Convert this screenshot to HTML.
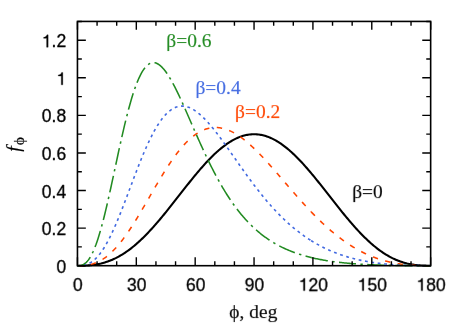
<!DOCTYPE html><html><head><meta charset="utf-8"><style>html,body{margin:0;padding:0;background:#fff;width:463px;height:324px;overflow:hidden}svg{display:block}text{font-family:"Liberation Sans",sans-serif;stroke-width:0.3px;stroke-linejoin:round}.s{font-family:"Liberation Serif",serif;stroke-width:0.14px}</style></head><body>
<svg width="463" height="324" viewBox="0 0 463 324">
<rect width="463" height="324" fill="#fff"/>
<g fill="none" stroke-linejoin="round">
<path d="M77.45 265.70 L78.43 265.70 L79.41 265.70 L80.39 265.69 L81.37 265.68 L82.36 265.66 L83.34 265.64 L84.32 265.61 L85.30 265.57 L86.28 265.52 L87.26 265.47 L88.24 265.40 L89.22 265.33 L90.20 265.24 L91.19 265.15 L92.17 265.04 L93.15 264.92 L94.13 264.79 L95.11 264.64 L96.09 264.48 L97.07 264.31 L98.05 264.13 L99.03 263.93 L100.02 263.71 L101.00 263.49 L101.98 263.24 L102.96 262.98 L103.94 262.71 L104.92 262.42 L105.90 262.11 L106.88 261.79 L107.86 261.45 L108.85 261.09 L109.83 260.72 L110.81 260.33 L111.79 259.92 L112.77 259.49 L113.75 259.05 L114.73 258.59 L115.71 258.12 L116.69 257.62 L117.68 257.11 L118.66 256.58 L119.64 256.03 L120.62 255.46 L121.60 254.88 L122.58 254.28 L123.56 253.66 L124.54 253.02 L125.52 252.37 L126.51 251.69 L127.49 251.00 L128.47 250.30 L129.45 249.57 L130.43 248.83 L131.41 248.07 L132.39 247.29 L133.37 246.50 L134.35 245.69 L135.34 244.86 L136.32 244.02 L137.30 243.16 L138.28 242.28 L139.26 241.39 L140.24 240.48 L141.22 239.56 L142.20 238.62 L143.18 237.66 L144.17 236.69 L145.15 235.71 L146.13 234.71 L147.11 233.70 L148.09 232.68 L149.07 231.64 L150.05 230.59 L151.03 229.53 L152.01 228.45 L153.00 227.36 L153.98 226.26 L154.96 225.15 L155.94 224.03 L156.92 222.90 L157.90 221.76 L158.88 220.61 L159.86 219.45 L160.84 218.28 L161.83 217.10 L162.81 215.91 L163.79 214.72 L164.77 213.52 L165.75 212.31 L166.73 211.09 L167.71 209.87 L168.69 208.65 L169.67 207.42 L170.66 206.18 L171.64 204.94 L172.62 203.70 L173.60 202.45 L174.58 201.20 L175.56 199.95 L176.54 198.70 L177.52 197.45 L178.50 196.19 L179.49 194.94 L180.47 193.68 L181.45 192.43 L182.43 191.18 L183.41 189.93 L184.39 188.68 L185.37 187.43 L186.35 186.19 L187.33 184.96 L188.32 183.72 L189.30 182.49 L190.28 181.27 L191.26 180.05 L192.24 178.84 L193.22 177.64 L194.20 176.44 L195.18 175.25 L196.16 174.07 L197.15 172.90 L198.13 171.74 L199.11 170.58 L200.09 169.44 L201.07 168.31 L202.05 167.19 L203.03 166.08 L204.01 164.99 L204.99 163.90 L205.98 162.83 L206.96 161.77 L207.94 160.73 L208.92 159.70 L209.90 158.69 L210.88 157.69 L211.86 156.71 L212.84 155.74 L213.82 154.80 L214.81 153.86 L215.79 152.95 L216.77 152.05 L217.75 151.17 L218.73 150.31 L219.71 149.47 L220.69 148.65 L221.67 147.85 L222.65 147.07 L223.64 146.30 L224.62 145.56 L225.60 144.84 L226.58 144.15 L227.56 143.47 L228.54 142.81 L229.52 142.18 L230.50 141.57 L231.48 140.98 L232.47 140.42 L233.45 139.88 L234.43 139.36 L235.41 138.87 L236.39 138.40 L237.37 137.95 L238.35 137.53 L239.33 137.14 L240.31 136.76 L241.30 136.42 L242.28 136.10 L243.26 135.80 L244.24 135.53 L245.22 135.28 L246.20 135.06 L247.18 134.87 L248.16 134.70 L249.14 134.56 L250.13 134.44 L251.11 134.35 L252.09 134.28 L253.07 134.24 L254.05 134.23 L255.03 134.24 L256.01 134.28 L256.99 134.35 L257.97 134.44 L258.96 134.56 L259.94 134.70 L260.92 134.87 L261.90 135.06 L262.88 135.28 L263.86 135.53 L264.84 135.80 L265.82 136.10 L266.80 136.42 L267.79 136.76 L268.77 137.14 L269.75 137.53 L270.73 137.95 L271.71 138.40 L272.69 138.87 L273.67 139.36 L274.65 139.88 L275.63 140.42 L276.62 140.98 L277.60 141.57 L278.58 142.18 L279.56 142.81 L280.54 143.47 L281.52 144.15 L282.50 144.84 L283.48 145.56 L284.46 146.30 L285.45 147.07 L286.43 147.85 L287.41 148.65 L288.39 149.47 L289.37 150.31 L290.35 151.17 L291.33 152.05 L292.31 152.95 L293.29 153.86 L294.28 154.80 L295.26 155.74 L296.24 156.71 L297.22 157.69 L298.20 158.69 L299.18 159.70 L300.16 160.73 L301.14 161.77 L302.12 162.83 L303.11 163.90 L304.09 164.99 L305.07 166.08 L306.05 167.19 L307.03 168.31 L308.01 169.44 L308.99 170.58 L309.97 171.74 L310.95 172.90 L311.94 174.07 L312.92 175.25 L313.90 176.44 L314.88 177.64 L315.86 178.84 L316.84 180.05 L317.82 181.27 L318.80 182.49 L319.78 183.72 L320.77 184.96 L321.75 186.19 L322.73 187.43 L323.71 188.68 L324.69 189.93 L325.67 191.18 L326.65 192.43 L327.63 193.68 L328.61 194.94 L329.60 196.19 L330.58 197.45 L331.56 198.70 L332.54 199.95 L333.52 201.20 L334.50 202.45 L335.48 203.70 L336.46 204.94 L337.44 206.18 L338.43 207.42 L339.41 208.65 L340.39 209.87 L341.37 211.09 L342.35 212.31 L343.33 213.52 L344.31 214.72 L345.29 215.91 L346.27 217.10 L347.26 218.28 L348.24 219.45 L349.22 220.61 L350.20 221.76 L351.18 222.90 L352.16 224.03 L353.14 225.15 L354.12 226.26 L355.10 227.36 L356.09 228.45 L357.07 229.53 L358.05 230.59 L359.03 231.64 L360.01 232.68 L360.99 233.70 L361.97 234.71 L362.95 235.71 L363.93 236.69 L364.92 237.66 L365.90 238.62 L366.88 239.56 L367.86 240.48 L368.84 241.39 L369.82 242.28 L370.80 243.16 L371.78 244.02 L372.76 244.86 L373.75 245.69 L374.73 246.50 L375.71 247.29 L376.69 248.07 L377.67 248.83 L378.65 249.57 L379.63 250.30 L380.61 251.00 L381.59 251.69 L382.58 252.37 L383.56 253.02 L384.54 253.66 L385.52 254.28 L386.50 254.88 L387.48 255.46 L388.46 256.03 L389.44 256.58 L390.42 257.11 L391.41 257.62 L392.39 258.12 L393.37 258.59 L394.35 259.05 L395.33 259.49 L396.31 259.92 L397.29 260.33 L398.27 260.72 L399.25 261.09 L400.24 261.45 L401.22 261.79 L402.20 262.11 L403.18 262.42 L404.16 262.71 L405.14 262.98 L406.12 263.24 L407.10 263.49 L408.08 263.71 L409.07 263.93 L410.05 264.13 L411.03 264.31 L412.01 264.48 L412.99 264.64 L413.97 264.79 L414.95 264.92 L415.93 265.04 L416.91 265.15 L417.90 265.24 L418.88 265.33 L419.86 265.40 L420.84 265.47 L421.82 265.52 L422.80 265.57 L423.78 265.61 L424.76 265.64 L425.74 265.66 L426.73 265.68 L427.71 265.69 L428.69 265.70 L429.67 265.70 L430.65 265.70" stroke="#000" stroke-width="2.1"/>
<path d="M77.45 265.70 L78.43 265.70 L79.41 265.69 L80.40 265.67 L81.38 265.65 L82.36 265.60 L83.34 265.55 L84.32 265.47 L85.31 265.38 L86.29 265.26 L87.27 265.13 L88.25 264.97 L89.23 264.78 L90.22 264.57 L91.20 264.33 L92.18 264.07 L93.16 263.78 L94.14 263.45 L95.12 263.10 L96.11 262.72 L97.09 262.30 L98.07 261.85 L99.05 261.37 L100.03 260.86 L101.02 260.31 L102.00 259.73 L102.98 259.12 L103.96 258.47 L104.94 257.78 L105.93 257.06 L106.91 256.31 L107.89 255.52 L108.87 254.70 L109.85 253.84 L110.84 252.95 L111.82 252.02 L112.80 251.06 L113.78 250.07 L114.76 249.04 L115.75 247.98 L116.73 246.89 L117.71 245.76 L118.69 244.61 L119.67 243.42 L120.66 242.20 L121.64 240.95 L122.62 239.68 L123.60 238.37 L124.58 237.04 L125.56 235.68 L126.55 234.30 L127.53 232.89 L128.51 231.45 L129.49 229.99 L130.47 228.51 L131.46 227.01 L132.44 225.49 L133.42 223.95 L134.40 222.39 L135.38 220.82 L136.37 219.22 L137.35 217.62 L138.33 216.00 L139.31 214.36 L140.29 212.71 L141.28 211.06 L142.26 209.39 L143.24 207.72 L144.22 206.04 L145.20 204.35 L146.19 202.65 L147.17 200.96 L148.15 199.26 L149.13 197.56 L150.11 195.86 L151.10 194.16 L152.08 192.46 L153.06 190.77 L154.04 189.08 L155.02 187.39 L156.00 185.72 L156.99 184.05 L157.97 182.39 L158.95 180.74 L159.93 179.10 L160.91 177.47 L161.90 175.85 L162.88 174.25 L163.86 172.67 L164.84 171.10 L165.82 169.54 L166.81 168.01 L167.79 166.49 L168.77 165.00 L169.75 163.52 L170.73 162.07 L171.72 160.63 L172.70 159.22 L173.68 157.84 L174.66 156.48 L175.64 155.14 L176.63 153.84 L177.61 152.55 L178.59 151.30 L179.57 150.07 L180.55 148.87 L181.54 147.70 L182.52 146.56 L183.50 145.45 L184.48 144.37 L185.46 143.33 L186.44 142.31 L187.43 141.33 L188.41 140.37 L189.39 139.45 L190.37 138.57 L191.35 137.71 L192.34 136.89 L193.32 136.11 L194.30 135.36 L195.28 134.64 L196.26 133.95 L197.25 133.30 L198.23 132.69 L199.21 132.11 L200.19 131.56 L201.17 131.05 L202.16 130.57 L203.14 130.13 L204.12 129.73 L205.10 129.35 L206.08 129.01 L207.07 128.71 L208.05 128.44 L209.03 128.21 L210.01 128.01 L210.99 127.84 L211.98 127.70 L212.96 127.60 L213.94 127.54 L214.92 127.50 L215.90 127.50 L216.88 127.53 L217.87 127.59 L218.85 127.69 L219.83 127.81 L220.81 127.97 L221.79 128.15 L222.78 128.37 L223.76 128.62 L224.74 128.89 L225.72 129.20 L226.70 129.53 L227.69 129.90 L228.67 130.29 L229.65 130.70 L230.63 131.15 L231.61 131.62 L232.60 132.12 L233.58 132.64 L234.56 133.19 L235.54 133.76 L236.52 134.35 L237.51 134.97 L238.49 135.61 L239.47 136.28 L240.45 136.96 L241.43 137.67 L242.42 138.40 L243.40 139.15 L244.38 139.92 L245.36 140.70 L246.34 141.51 L247.32 142.34 L248.31 143.18 L249.29 144.04 L250.27 144.91 L251.25 145.81 L252.23 146.71 L253.22 147.64 L254.20 148.57 L255.18 149.53 L256.16 150.49 L257.14 151.47 L258.13 152.46 L259.11 153.46 L260.09 154.47 L261.07 155.50 L262.05 156.53 L263.04 157.58 L264.02 158.63 L265.00 159.69 L265.98 160.76 L266.96 161.84 L267.95 162.93 L268.93 164.02 L269.91 165.12 L270.89 166.23 L271.87 167.34 L272.86 168.45 L273.84 169.57 L274.82 170.70 L275.80 171.83 L276.78 172.96 L277.76 174.09 L278.75 175.23 L279.73 176.37 L280.71 177.51 L281.69 178.66 L282.67 179.80 L283.66 180.94 L284.64 182.09 L285.62 183.23 L286.60 184.37 L287.58 185.52 L288.57 186.66 L289.55 187.79 L290.53 188.93 L291.51 190.07 L292.49 191.20 L293.48 192.33 L294.46 193.45 L295.44 194.58 L296.42 195.69 L297.40 196.81 L298.39 197.92 L299.37 199.02 L300.35 200.12 L301.33 201.22 L302.31 202.31 L303.30 203.39 L304.28 204.47 L305.26 205.54 L306.24 206.61 L307.22 207.66 L308.20 208.72 L309.19 209.76 L310.17 210.80 L311.15 211.83" stroke="#ff4500" stroke-width="1.55" stroke-dasharray="5.4 7.44" stroke-dashoffset="12.29"/>
<path d="M311.15 211.83 L312.13 212.85 L313.11 213.86 L314.09 214.86 L315.07 215.86 L316.05 216.84 L317.03 217.82 L318.01 218.79 L318.99 219.75 L319.97 220.70 L320.95 221.65 L321.93 222.58 L322.90 223.50 L323.88 224.42 L324.86 225.32 L325.84 226.22 L326.82 227.11 L327.80 227.98 L328.78 228.85 L329.76 229.70 L330.74 230.55 L331.72 231.39 L332.70 232.21 L333.68 233.03 L334.66 233.83 L335.64 234.63 L336.62 235.41 L337.60 236.18 L338.58 236.95 L339.56 237.70 L340.54 238.44 L341.52 239.17 L342.49 239.89 L343.47 240.60 L344.45 241.30 L345.43 241.98 L346.41 242.66 L347.39 243.32 L348.37 243.98 L349.35 244.62 L350.33 245.25 L351.31 245.88 L352.29 246.49 L353.27 247.09 L354.25 247.68 L355.23 248.26 L356.21 248.82 L357.19 249.38 L358.17 249.93 L359.15 250.46 L360.13 250.99 L361.11 251.50 L362.08 252.00 L363.06 252.50 L364.04 252.98 L365.02 253.45 L366.00 253.91 L366.98 254.36 L367.96 254.80 L368.94 255.23 L369.92 255.65 L370.90 256.06 L371.88 256.46 L372.86 256.85 L373.84 257.23 L374.82 257.60 L375.80 257.96 L376.78 258.31 L377.76 258.65 L378.74 258.98 L379.72 259.30 L380.70 259.62 L381.67 259.92 L382.65 260.21 L383.63 260.50 L384.61 260.77 L385.59 261.04 L386.57 261.29 L387.55 261.54 L388.53 261.78 L389.51 262.01 L390.49 262.24 L391.47 262.45 L392.45 262.66 L393.43 262.85 L394.41 263.04 L395.39 263.23 L396.37 263.40 L397.35 263.57 L398.33 263.73 L399.31 263.88 L400.29 264.02 L401.26 264.16 L402.24 264.29 L403.22 264.41 L404.20 264.53 L405.18 264.64 L406.16 264.74 L407.14 264.84 L408.12 264.93 L409.10 265.01 L410.08 265.09 L411.06 265.16 L412.04 265.23 L413.02 265.29 L414.00 265.35 L414.98 265.40 L415.96 265.44 L416.94 265.49 L417.92 265.52 L418.90 265.56 L419.88 265.59 L420.85 265.61 L421.83 265.63 L422.81 265.65 L423.79 265.66 L424.77 265.68 L425.75 265.69 L426.73 265.69 L427.71 265.70 L428.69 265.70 L429.67 265.70 L430.65 265.70" stroke="#ff4500" stroke-width="1.55" stroke-dasharray="5.4 7.44"/>
<path d="M77.45 265.70 L78.43 265.70 L79.41 265.68 L80.40 265.63 L81.38 265.56 L82.36 265.45 L83.34 265.31 L84.32 265.11 L85.31 264.87 L86.29 264.58 L87.27 264.23 L88.25 263.82 L89.23 263.35 L90.22 262.82 L91.20 262.22 L92.18 261.55 L93.16 260.82 L94.14 260.01 L95.12 259.14 L96.11 258.19 L97.09 257.16 L98.07 256.07 L99.05 254.90 L100.03 253.66 L101.02 252.34 L102.00 250.95 L102.98 249.49 L103.96 247.96 L104.94 246.36 L105.93 244.68 L106.91 242.94 L107.89 241.14 L108.87 239.27 L109.85 237.34 L110.84 235.35 L111.82 233.30 L112.80 231.19 L113.78 229.03 L114.76 226.82 L115.75 224.56 L116.73 222.26 L117.71 219.92 L118.69 217.53 L119.67 215.11 L120.66 212.65 L121.64 210.17 L122.62 207.66 L123.60 205.12 L124.58 202.56 L125.56 199.99 L126.55 197.40 L127.53 194.80 L128.51 192.19 L129.49 189.58 L130.47 186.97 L131.46 184.36 L132.44 181.75 L133.42 179.15 L134.40 176.57 L135.38 174.00 L136.37 171.44 L137.35 168.91 L138.33 166.40 L139.31 163.92 L140.29 161.46 L141.28 159.04 L142.26 156.65 L143.24 154.29 L144.22 151.98 L145.20 149.70 L146.19 147.47 L147.17 145.29 L148.15 143.15 L149.13 141.06 L150.11 139.02 L151.10 137.04 L152.08 135.11 L153.06 133.23 L154.04 131.41 L155.02 129.65 L156.00 127.95 L156.99 126.31 L157.97 124.73 L158.95 123.22 L159.93 121.76 L160.91 120.37 L161.90 119.05 L162.88 117.78 L163.86 116.59 L164.84 115.46 L165.82 114.39 L166.81 113.39 L167.79 112.46 L168.77 111.59 L169.75 110.78 L170.73 110.04 L171.72 109.37 L172.70 108.76 L173.68 108.22 L174.66 107.73 L175.64 107.31 L176.63 106.96 L177.61 106.66 L178.59 106.43 L179.57 106.25 L180.55 106.14 L181.54 106.08 L182.52 106.08 L183.50 106.14 L184.48 106.25 L185.46 106.42 L186.44 106.64 L187.43 106.91 L188.41 107.23 L189.39 107.61 L190.37 108.03 L191.35 108.50 L192.34 109.01 L193.32 109.57 L194.30 110.18 L195.28 110.82 L196.26 111.51 L197.25 112.24 L198.23 113.01 L199.21 113.82 L200.19 114.66 L201.17 115.53 L202.16 116.45 L203.14 117.39 L204.12 118.36 L205.10 119.37 L206.08 120.40 L207.07 121.46 L208.05 122.55 L209.03 123.66 L210.01 124.80 L210.99 125.96 L211.98 127.14 L212.96 128.34 L213.94 129.56 L214.92 130.80 L215.90 132.06 L216.88 133.33 L217.87 134.62 L218.85 135.92 L219.83 137.24 L220.81 138.57 L221.79 139.90 L222.78 141.25 L223.76 142.61 L224.74 143.98 L225.72 145.35 L226.70 146.73 L227.69 148.12 L228.67 149.51 L229.65 150.90 L230.63 152.30 L231.61 153.70 L232.60 155.10 L233.58 156.51 L234.56 157.91 L235.54 159.31 L236.52 160.72 L237.51 162.12 L238.49 163.52 L239.47 164.92 L240.45 166.31 L241.43 167.70 L242.42 169.08 L243.40 170.46 L244.38 171.84 L245.36 173.21 L246.34 174.57 L247.32 175.93 L248.31 177.28 L249.29 178.62 L250.27 179.96 L251.25 181.28 L252.23 182.60 L253.22 183.91 L254.20 185.21 L255.18 186.50 L256.16 187.78 L257.14 189.05 L258.13 190.31 L259.11 191.56 L260.09 192.80 L261.07 194.03 L262.05 195.25 L263.04 196.45 L264.02 197.65 L265.00 198.83 L265.98 200.01 L266.96 201.17 L267.95 202.31 L268.93 203.45 L269.91 204.57 L270.89 205.69 L271.87 206.79 L272.86 207.87 L273.84 208.95 L274.82 210.01 L275.80 211.06 L276.78 212.10 L277.76 213.12 L278.75 214.13 L279.73 215.13 L280.71 216.12 L281.69 217.09 L282.67 218.05 L283.66 219.00 L284.64 219.94 L285.62 220.86 L286.60 221.77 L287.58 222.67 L288.57 223.55 L289.55 224.43 L290.53 225.29 L291.51 226.14 L292.49 226.97 L293.48 227.80 L294.46 228.61 L295.44 229.41 L296.42 230.20 L297.40 230.97 L298.39 231.73 L299.37 232.49 L300.35 233.23 L301.33 233.96 L302.31 234.67 L303.30 235.38 L304.28 236.07 L305.26 236.75 L306.24 237.43 L307.22 238.09 L308.20 238.74 L309.19 239.38 L310.17 240.00 L311.15 240.62" stroke="#4169e1" stroke-width="1.6" stroke-dasharray="2.8 3.64" stroke-dashoffset="0.42"/>
<path d="M311.15 240.62 L312.13 241.23 L313.11 241.82 L314.09 242.40 L315.07 242.98 L316.05 243.54 L317.03 244.10 L318.01 244.64 L318.99 245.17 L319.97 245.70 L320.95 246.21 L321.93 246.72 L322.90 247.21 L323.88 247.70 L324.86 248.18 L325.84 248.65 L326.82 249.11 L327.80 249.56 L328.78 250.00 L329.76 250.43 L330.74 250.86 L331.72 251.27 L332.70 251.68 L333.68 252.08 L334.66 252.47 L335.64 252.86 L336.62 253.23 L337.60 253.60 L338.58 253.96 L339.56 254.31 L340.54 254.66 L341.52 255.00 L342.49 255.33 L343.47 255.65 L344.45 255.97 L345.43 256.28 L346.41 256.58 L347.39 256.88 L348.37 257.16 L349.35 257.45 L350.33 257.72 L351.31 257.99 L352.29 258.26 L353.27 258.51 L354.25 258.76 L355.23 259.01 L356.21 259.25 L357.19 259.48 L358.17 259.71 L359.15 259.93 L360.13 260.14 L361.11 260.35 L362.08 260.56 L363.06 260.76 L364.04 260.95 L365.02 261.14 L366.00 261.33 L366.98 261.51 L367.96 261.68 L368.94 261.85 L369.92 262.01 L370.90 262.17 L371.88 262.33 L372.86 262.48 L373.84 262.62 L374.82 262.77 L375.80 262.90 L376.78 263.03 L377.76 263.16 L378.74 263.29 L379.72 263.41 L380.70 263.53 L381.67 263.64 L382.65 263.75 L383.63 263.85 L384.61 263.95 L385.59 264.05 L386.57 264.14 L387.55 264.23 L388.53 264.32 L389.51 264.41 L390.49 264.49 L391.47 264.56 L392.45 264.64 L393.43 264.71 L394.41 264.77 L395.39 264.84 L396.37 264.90 L397.35 264.96 L398.33 265.02 L399.31 265.07 L400.29 265.12 L401.26 265.17 L402.24 265.21 L403.22 265.26 L404.20 265.30 L405.18 265.33 L406.16 265.37 L407.14 265.40 L408.12 265.43 L409.10 265.46 L410.08 265.49 L411.06 265.52 L412.04 265.54 L413.02 265.56 L414.00 265.58 L414.98 265.60 L415.96 265.61 L416.94 265.63 L417.92 265.64 L418.90 265.65 L419.88 265.66 L420.85 265.67 L421.83 265.68 L422.81 265.68 L423.79 265.69 L424.77 265.69 L425.75 265.70 L426.73 265.70 L427.71 265.70 L428.69 265.70 L429.67 265.70 L430.65 265.70" stroke="#4169e1" stroke-width="1.6" stroke-dasharray="2.8 3.64"/>
<path d="M77.45 265.70 L78.43 265.69 L79.41 265.63 L80.40 265.50 L81.38 265.29 L82.36 264.96 L83.34 264.52 L84.32 263.94 L85.31 263.22 L86.29 262.35 L87.27 261.33 L88.25 260.13 L89.23 258.76 L90.22 257.22 L91.20 255.50 L92.18 253.60 L93.16 251.51 L94.14 249.25 L95.12 246.81 L96.11 244.19 L97.09 241.40 L98.07 238.44 L99.05 235.31 L100.03 232.02 L101.02 228.59 L102.00 225.00 L102.98 221.29 L103.96 217.44 L104.94 213.47 L105.93 209.40 L106.91 205.22 L107.89 200.95 L108.87 196.61 L109.85 192.19 L110.84 187.72 L111.82 183.20 L112.80 178.65 L113.78 174.07 L114.76 169.48 L115.75 164.89 L116.73 160.31 L117.71 155.74 L118.69 151.21 L119.67 146.71 L120.66 142.27 L121.64 137.88 L122.62 133.56 L123.60 129.32 L124.58 125.17 L125.56 121.11 L126.55 117.14 L127.53 113.29 L128.51 109.55 L129.49 105.93 L130.47 102.44 L131.46 99.08 L132.44 95.85 L133.42 92.77 L134.40 89.82 L135.38 87.03 L136.37 84.38 L137.35 81.88 L138.33 79.54 L139.31 77.35 L140.29 75.31 L141.28 73.43 L142.26 71.71 L143.24 70.14 L144.22 68.72 L145.20 67.46 L146.19 66.35 L147.17 65.39 L148.15 64.57 L149.13 63.91 L150.11 63.38 L151.10 63.00 L152.08 62.76 L153.06 62.65 L154.04 62.67 L155.02 62.82 L156.00 63.09 L156.99 63.48 L157.97 64.00 L158.95 64.62 L159.93 65.35 L160.91 66.19 L161.90 67.13 L162.88 68.17 L163.86 69.30 L164.84 70.52 L165.82 71.82 L166.81 73.20 L167.79 74.66 L168.77 76.20 L169.75 77.80 L170.73 79.46 L171.72 81.19 L172.70 82.97 L173.68 84.81 L174.66 86.70 L175.64 88.63 L176.63 90.60 L177.61 92.62 L178.59 94.67 L179.57 96.75 L180.55 98.86 L181.54 101.00 L182.52 103.16 L183.50 105.34 L184.48 107.54 L185.46 109.75 L186.44 111.97 L187.43 114.21 L188.41 116.45 L189.39 118.70 L190.37 120.95 L191.35 123.20 L192.34 125.46 L193.32 127.70 L194.30 129.95 L195.28 132.19 L196.26 134.42 L197.25 136.64 L198.23 138.85 L199.21 141.05 L200.19 143.23 L201.17 145.40 L202.16 147.55 L203.14 149.69 L204.12 151.81 L205.10 153.91 L206.08 155.99 L207.07 158.05 L208.05 160.09 L209.03 162.10 L210.01 164.10 L210.99 166.07 L211.98 168.02 L212.96 169.94 L213.94 171.84 L214.92 173.72 L215.90 175.57 L216.88 177.39 L217.87 179.19 L218.85 180.97 L219.83 182.71 L220.81 184.44 L221.79 186.13 L222.78 187.80 L223.76 189.45 L224.74 191.06 L225.72 192.65 L226.70 194.22 L227.69 195.76 L228.67 197.27 L229.65 198.76 L230.63 200.22 L231.61 201.66 L232.60 203.07 L233.58 204.45 L234.56 205.81 L235.54 207.15 L236.52 208.46 L237.51 209.75 L238.49 211.01 L239.47 212.25 L240.45 213.46 L241.43 214.65 L242.42 215.82 L243.40 216.97 L244.38 218.09 L245.36 219.19 L246.34 220.27 L247.32 221.33 L248.31 222.37 L249.29 223.38 L250.27 224.38 L251.25 225.35 L252.23 226.31 L253.22 227.24 L254.20 228.16 L255.18 229.05 L256.16 229.93 L257.14 230.79 L258.13 231.63 L259.11 232.45 L260.09 233.26 L261.07 234.04 L262.05 234.81 L263.04 235.57 L264.02 236.31 L265.00 237.03 L265.98 237.73 L266.96 238.42 L267.95 239.10 L268.93 239.76 L269.91 240.40 L270.89 241.03 L271.87 241.65 L272.86 242.26 L273.84 242.85 L274.82 243.42 L275.80 243.99 L276.78 244.54 L277.76 245.07 L278.75 245.60 L279.73 246.11 L280.71 246.62 L281.69 247.11 L282.67 247.59 L283.66 248.06 L284.64 248.51 L285.62 248.96 L286.60 249.40 L287.58 249.83 L288.57 250.24 L289.55 250.65 L290.53 251.05 L291.51 251.44 L292.49 251.81 L293.48 252.18 L294.46 252.55 L295.44 252.90 L296.42 253.24 L297.40 253.58 L298.39 253.91 L299.37 254.23 L300.35 254.54 L301.33 254.85 L302.31 255.15 L303.30 255.44 L304.28 255.72 L305.26 256.00 L306.24 256.27 L307.22 256.54 L308.20 256.79 L309.19 257.04 L310.17 257.29 L311.15 257.53" stroke="#228b22" stroke-width="1.55" stroke-dasharray="17 4.47 2.4 4.42" stroke-dashoffset="0.75"/>
<path d="M311.15 257.53 L312.13 257.76 L313.11 257.99 L314.09 258.21 L315.07 258.43 L316.05 258.64 L317.03 258.84 L318.01 259.05 L318.99 259.24 L319.97 259.43 L320.95 259.62 L321.93 259.80 L322.90 259.98 L323.88 260.15 L324.86 260.32 L325.84 260.48 L326.82 260.64 L327.80 260.80 L328.78 260.95 L329.76 261.10 L330.74 261.24 L331.72 261.38 L332.70 261.52 L333.68 261.65 L334.66 261.78 L335.64 261.91 L336.62 262.03 L337.60 262.15 L338.58 262.27 L339.56 262.38 L340.54 262.49 L341.52 262.60 L342.49 262.71 L343.47 262.81 L344.45 262.91 L345.43 263.01 L346.41 263.10 L347.39 263.19 L348.37 263.28 L349.35 263.37 L350.33 263.45 L351.31 263.53 L352.29 263.61 L353.27 263.69 L354.25 263.77 L355.23 263.84 L356.21 263.91 L357.19 263.98 L358.17 264.05 L359.15 264.11 L360.13 264.17 L361.11 264.24 L362.08 264.29 L363.06 264.35 L364.04 264.41 L365.02 264.46 L366.00 264.52 L366.98 264.57 L367.96 264.62 L368.94 264.66 L369.92 264.71 L370.90 264.75 L371.88 264.80 L372.86 264.84 L373.84 264.88 L374.82 264.92 L375.80 264.96 L376.78 264.99 L377.76 265.03 L378.74 265.06 L379.72 265.10 L380.70 265.13 L381.67 265.16 L382.65 265.19 L383.63 265.22 L384.61 265.24 L385.59 265.27 L386.57 265.29 L387.55 265.32 L388.53 265.34 L389.51 265.36 L390.49 265.38 L391.47 265.41 L392.45 265.42 L393.43 265.44 L394.41 265.46 L395.39 265.48 L396.37 265.49 L397.35 265.51 L398.33 265.52 L399.31 265.54 L400.29 265.55 L401.26 265.56 L402.24 265.58 L403.22 265.59 L404.20 265.60 L405.18 265.61 L406.16 265.62 L407.14 265.62 L408.12 265.63 L409.10 265.64 L410.08 265.65 L411.06 265.65 L412.04 265.66 L413.02 265.66 L414.00 265.67 L414.98 265.67 L415.96 265.68 L416.94 265.68 L417.92 265.68 L418.90 265.69 L419.88 265.69 L420.85 265.69 L421.83 265.69 L422.81 265.70 L423.79 265.70 L424.77 265.70 L425.75 265.70 L426.73 265.70 L427.71 265.70 L428.69 265.70 L429.67 265.70 L430.65 265.70" stroke="#228b22" stroke-width="1.55" stroke-dasharray="17 4.47 2.4 4.42"/>
</g>
<path d="M77.45 265.70v-8.40M77.45 21.43v8.40M97.07 265.70v-4.40M97.07 21.43v4.40M116.69 265.70v-4.40M116.69 21.43v4.40M136.32 265.70v-8.40M136.32 21.43v8.40M155.94 265.70v-4.40M155.94 21.43v4.40M175.56 265.70v-4.40M175.56 21.43v4.40M195.18 265.70v-8.40M195.18 21.43v8.40M214.81 265.70v-4.40M214.81 21.43v4.40M234.43 265.70v-4.40M234.43 21.43v4.40M254.05 265.70v-8.40M254.05 21.43v8.40M273.67 265.70v-4.40M273.67 21.43v4.40M293.29 265.70v-4.40M293.29 21.43v4.40M312.92 265.70v-8.40M312.92 21.43v8.40M332.54 265.70v-4.40M332.54 21.43v4.40M352.16 265.70v-4.40M352.16 21.43v4.40M371.78 265.70v-8.40M371.78 21.43v8.40M391.41 265.70v-4.40M391.41 21.43v4.40M411.03 265.70v-4.40M411.03 21.43v4.40M430.65 265.70v-8.40M430.65 21.43v8.40M77.45 265.70h8.40M430.65 265.70h-8.40M77.45 246.91h4.40M430.65 246.91h-4.40M77.45 228.12h8.40M430.65 228.12h-8.40M77.45 209.33h4.40M430.65 209.33h-4.40M77.45 190.54h8.40M430.65 190.54h-8.40M77.45 171.75h4.40M430.65 171.75h-4.40M77.45 152.96h8.40M430.65 152.96h-8.40M77.45 134.17h4.40M430.65 134.17h-4.40M77.45 115.38h8.40M430.65 115.38h-8.40M77.45 96.59h4.40M430.65 96.59h-4.40M77.45 77.80h8.40M430.65 77.80h-8.40M77.45 59.01h4.40M430.65 59.01h-4.40M77.45 40.22h8.40M430.65 40.22h-8.40M77.45 21.43h4.40M430.65 21.43h-4.40" stroke="#000" stroke-width="1.4" fill="none"/>
<rect x="77.45" y="21.43" width="353.20" height="244.27" fill="none" stroke="#000" stroke-width="1.6"/>
<g transform="rotate(0.02)" opacity="0.999" stroke="#000">
<text x="73.06" y="290.60" font-size="17.6">0</text>
<text x="127.03" y="290.60" font-size="17.6">30</text>
<text x="185.89" y="290.60" font-size="17.6">60</text>
<text x="244.76" y="290.60" font-size="17.6">90</text>
<path stroke-width="0.3" d="M303.52 290.60 L303.52 281.75 L300.55 281.75 L300.55 280.71 C302.25 280.64 303.45 279.86 303.85 278.23 L305.05 278.23 L305.05 290.60 Z"/>
<text x="308.52" y="290.60" font-size="17.6">20</text>
<path stroke-width="0.3" d="M362.39 290.60 L362.39 281.75 L359.41 281.75 L359.41 280.71 C361.12 280.64 362.32 279.86 362.72 278.23 L363.92 278.23 L363.92 290.60 Z"/>
<text x="367.39" y="290.60" font-size="17.6">50</text>
<path stroke-width="0.3" d="M421.25 290.60 L421.25 281.75 L418.28 281.75 L418.28 280.71 C419.99 280.64 421.18 279.86 421.59 278.23 L422.78 278.23 L422.78 290.60 Z"/>
<text x="426.26" y="290.60" font-size="17.6">80</text>
<text x="56.51" y="272.70" font-size="17.6">0</text>
<text x="41.83" y="235.12" font-size="17.6">0.2</text>
<text x="41.83" y="197.54" font-size="17.6">0.4</text>
<text x="41.83" y="159.96" font-size="17.6">0.6</text>
<text x="41.83" y="122.38" font-size="17.6">0.8</text>
<path stroke-width="0.3" d="M61.30 84.80 L61.30 75.95 L58.32 75.95 L58.32 74.91 C60.03 74.84 61.23 74.06 61.63 72.43 L62.83 72.43 L62.83 84.80 Z"/>
<path stroke-width="0.3" d="M46.62 47.22 L46.62 38.37 L43.65 38.37 L43.65 37.33 C45.35 37.26 46.55 36.48 46.95 34.85 L48.15 34.85 L48.15 47.22 Z"/>
<text x="51.62" y="47.22" font-size="17.6">.2</text>
<text class="s" x="253.4" y="318.0" font-size="19.5" text-anchor="middle">ϕ, deg</text>
<text class="s" transform="translate(19.5,151.7) rotate(-90)" font-size="19.5" font-style="italic">f</text>
<text class="s" transform="translate(23.8,145.3) rotate(-90)" font-size="15.6">ϕ</text>
<text class="s" x="166.3" y="47.0" font-size="19.5" fill="#228b22" stroke="#228b22">β=0.6</text>
<text class="s" x="195.4" y="94.0" font-size="19.5" fill="#4169e1" stroke="#4169e1">β=0.4</text>
<text class="s" x="235.0" y="118.3" font-size="19.5" fill="#ff4500" stroke="#ff4500">β=0.2</text>
<text class="s" x="352.2" y="197.7" font-size="19.5" fill="#000">β=0</text>
</g>
</svg></body></html>
